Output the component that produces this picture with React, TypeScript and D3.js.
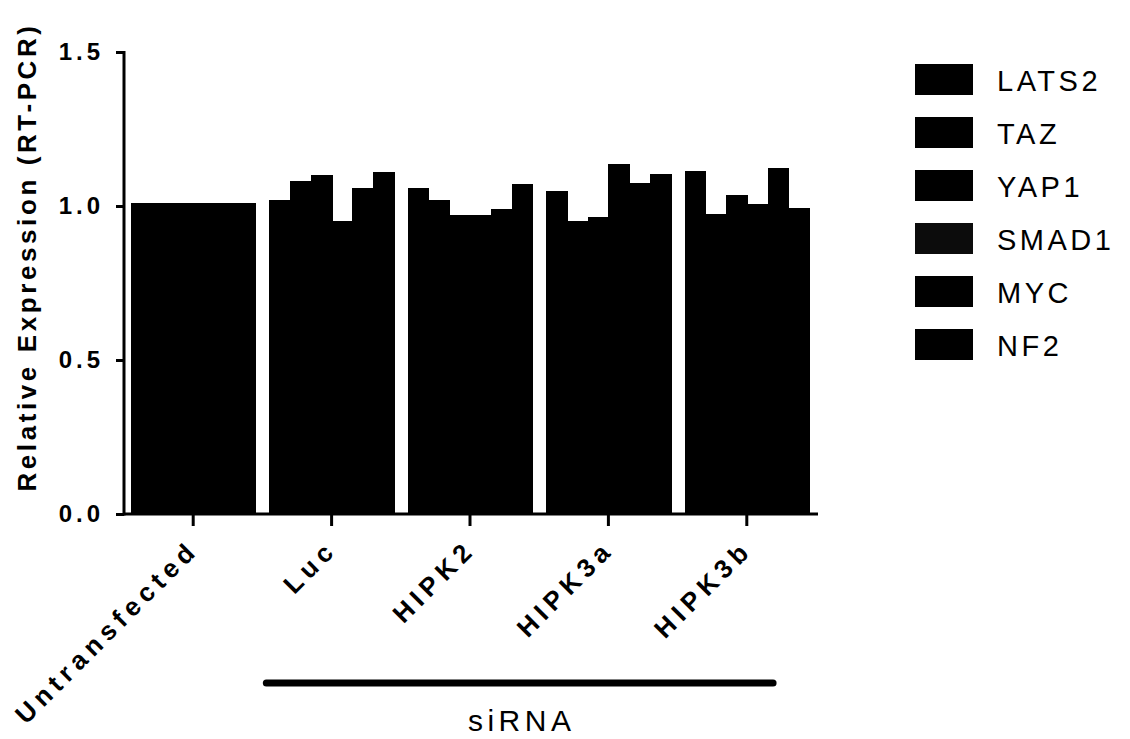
import React, { useRef, useEffect } from "react";
import * as d3 from "d3";

const WIDTH = 1130;
const HEIGHT = 739;

const groups = ["Untransfected", "Luc", "HIPK2", "HIPK3a", "HIPK3b"];
const genes = ["LATS2", "TAZ", "YAP1", "SMAD1", "MYC", "NF2"];

// one value per group, in the order of `groups`
const lats2 = [1.01, 1.02, 1.06, 1.05, 1.115];
const taz = [1.01, 1.08, 1.02, 0.95, 0.975];
const yap1 = [1.01, 1.1, 0.97, 0.965, 1.035];
const smad1 = [1.01, 0.95, 0.97, 1.135, 1.005];
const myc = [1.01, 1.06, 0.99, 1.075, 1.125];
const nf2 = [1.01, 1.11, 1.07, 1.105, 0.995];

const yTicks = [0, 0.5, 1.0, 1.5];
const siRnaGroups = ["Luc", "HIPK2", "HIPK3a", "HIPK3b"];

const FONT = "'Liberation Sans', Arial, Helvetica, sans-serif";

export default function App() {
  const svgRef = useRef(null);

  useEffect(() => {
    const svg = d3.select(svgRef.current);
    svg.selectAll("*").remove();

    const seriesValues = [lats2, taz, yap1, smad1, myc, nf2];
    const rows = [];
    groups.forEach((g, gi) => {
      genes.forEach((gene, si) => {
        rows.push({ group: g, gene, value: seriesValues[si][gi] });
      });
    });

    // scales
    const x0 = d3
      .scaleBand()
      .domain(groups)
      .range([124, 816])
      .paddingInner(0.1)
      .paddingOuter(0.05);
    const x1 = d3.scaleBand().domain(genes).range([0, x0.bandwidth()]).padding(0);
    const y = d3.scaleLinear().domain([0, 1.5]).range([514, 52]);

    // bars
    svg
      .append("g")
      .attr("shape-rendering", "crispEdges")
      .selectAll("rect")
      .data(rows)
      .join("rect")
      .attr("x", (d) => x0(d.group) + x1(d.gene))
      .attr("width", x1.bandwidth() + 1)
      .attr("y", (d) => y(d.value))
      .attr("height", (d) => y(0) - y(d.value))
      .attr("fill", "#000");

    // y axis
    const yAxis = svg
      .append("g")
      .attr("transform", `translate(124,0)`)
      .call(
        d3
          .axisLeft(y)
          .tickValues(yTicks)
          .tickFormat(d3.format(".1f"))
          .tickSize(8)
          .tickPadding(12)
      );
    yAxis.select(".domain").attr("stroke-width", 3).attr("d", `M0,${y(1.5) - 1}V${y(0) + 1.5}`);
    yAxis.selectAll(".tick line").attr("stroke-width", 3);
    yAxis
      .selectAll(".tick text")
      .attr("font-family", FONT)
      .attr("font-size", 24)
      .attr("font-weight", "bold")
      .attr("letter-spacing", 4)
      .attr("fill", "#000");

    // x axis
    const xAxis = svg
      .append("g")
      .attr("transform", `translate(0,${y(0)})`)
      .call(d3.axisBottom(x0).tickSize(12).tickFormat(""));
    xAxis.select(".domain").attr("stroke-width", 3).attr("d", `M123,0H818`);
    xAxis.selectAll(".tick line").attr("stroke-width", 3);

    // rotated category labels
    svg
      .append("g")
      .selectAll("text")
      .data(groups)
      .join("text")
      .attr("transform", (d) => `translate(${x0(d) + x0.bandwidth() / 2 + 7},${y(0) + 37}) rotate(-45)`)
      .attr("text-anchor", "end")
      .attr("font-family", FONT)
      .attr("font-size", 26)
      .attr("font-weight", "bold")
      .attr("letter-spacing", 5.5)
      .text((d) => d);

    // y title
    svg
      .append("text")
      .attr("transform", `translate(36,${(y(0) + y(1.5)) / 2 - 26}) rotate(-90)`)
      .attr("text-anchor", "middle")
      .attr("font-family", FONT)
      .attr("font-size", 26)
      .attr("font-weight", "bold")
      .attr("letter-spacing", 3.6)
      .text("Relative Expression (RT-PCR)");

    // siRNA bracket
    const first = siRnaGroups[0];
    const last = siRnaGroups[siRnaGroups.length - 1];
    const lx1 = x0(first) - 3;
    const lx2 = x0(last) + x0.bandwidth() - 36;
    svg
      .append("line")
      .attr("x1", lx1)
      .attr("x2", lx2)
      .attr("y1", 683)
      .attr("y2", 683)
      .attr("stroke", "#000")
      .attr("stroke-width", 7)
      .attr("stroke-linecap", "round");
    svg
      .append("text")
      .attr("x", (lx1 + lx2) / 2 + 2)
      .attr("y", 731)
      .attr("text-anchor", "middle")
      .attr("font-family", FONT)
      .attr("font-size", 30)
      .attr("letter-spacing", 4.5)
      .text("siRNA");

    // legend
    const legend = svg
      .append("g")
      .selectAll("g")
      .data(genes)
      .join("g")
      .attr("transform", (d, i) => `translate(915,${64 + i * 53})`);
    legend
      .append("rect")
      .attr("width", 58)
      .attr("height", 31)
      .attr("fill", (d) => (d === "SMAD1" ? "#0c0c0c" : "#000"));
    legend
      .append("text")
      .attr("x", 82)
      .attr("y", 27)
      .attr("font-family", FONT)
      .attr("font-size", 29)
      .attr("letter-spacing", 3.5)
      .text((d) => d);
  }, []);

  return (
    <svg
      ref={svgRef}
      width={WIDTH}
      height={HEIGHT}
      style={{ position: "absolute", left: 0, top: 0, background: "#fff" }}
    />
  );
}
